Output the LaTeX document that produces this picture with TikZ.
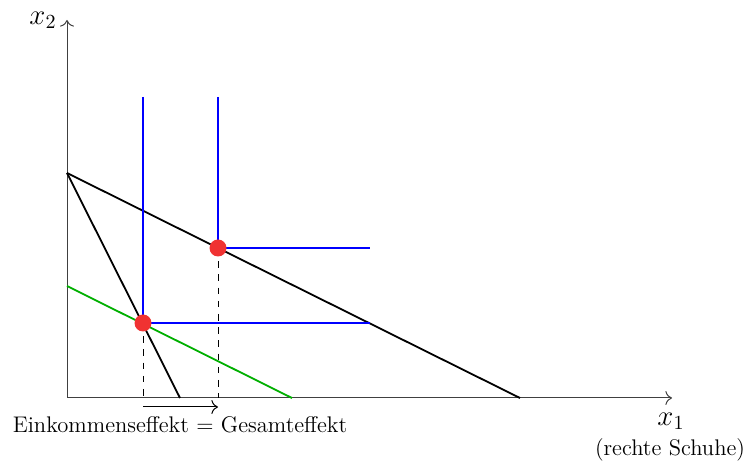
\documentclass[tikz,border=0pt]{standalone}
\usetikzlibrary{arrows.meta}
\definecolor{grn}{RGB}{0,175,0}
\definecolor{dotred}{RGB}{240,50,50}
\begin{document}
\begin{tikzpicture}[x=0.5pt,y=-0.5pt,
  axis/.style={draw=black!75,line width=0.5pt,-{To[length=3.3pt]}},
  budget/.style={draw=black,line width=0.9pt},
  indiff/.style={draw=blue,line width=0.9pt},
  newbudget/.style={draw=grn,line width=0.9pt},
  guide/.style={draw=black,line width=0.45pt,dash pattern=on 3.3pt off 3.3pt},
  optdot/.style={circle,fill=dotred,inner sep=0pt,minimum size=8.5pt},
  lbl/.style={inner sep=1pt,font=\fontsize{11.3}{13.5}\selectfont},
  biglbl/.style={inner sep=1pt,font=\fontsize{13.8}{16}\selectfont}]
\useasboundingbox (0,0) rectangle (750,464);
\coordinate (O) at (67,398);
\coordinate (Xend) at (672,398);
\coordinate (Yend) at (67,20);
\coordinate (A) at (67,173);
\coordinate (B) at (520,398);
\coordinate (C) at (180,398);
\coordinate (G1) at (67,286);
\coordinate (G2) at (292,398);
\coordinate (P) at (143,323);
\coordinate (Q) at (218,248);
\coordinate (Ptop) at (143,97);
\coordinate (Qtop) at (218,97);
\coordinate (Pright) at (370,323);
\coordinate (Qright) at (370,248);
\coordinate (Pbot) at (143,398);
\coordinate (Qbot) at (218,398);
\coordinate (Ea) at (143,407);
\coordinate (Eb) at (218,407);
% axes
\draw[axis] (O) -- (Xend);
\draw[axis] (O) -- (Yend);
\node[biglbl] (x2) at (43,20) {$x_2$};
\node[biglbl] (x1) at (671,421) {$x_1$};
\node[lbl] (rs) at (670,450) {(rechte Schuhe)};
% budget lines
\draw[budget] (A) -- (B);
\draw[budget] (A) -- (C);
\draw[newbudget] (G1) -- (G2);
% indifference curves
\draw[indiff] (Ptop) -- (P) -- (Pright);
\draw[indiff] (Qtop) -- (Q) -- (Qright);
% guides
\draw[guide] (P) -- (Pbot);
\draw[guide] (Q) -- (Qbot);
\draw[line width=0.5pt,-{To[length=3.3pt]}] (Ea) -- (Eb);
\node[lbl] (eff) at (180,425) {Einkommenseffekt = Gesamteffekt};
% optima
\node[optdot] (p) at (P) {};
\node[optdot] (q) at (Q) {};
\end{tikzpicture}
\end{document}
